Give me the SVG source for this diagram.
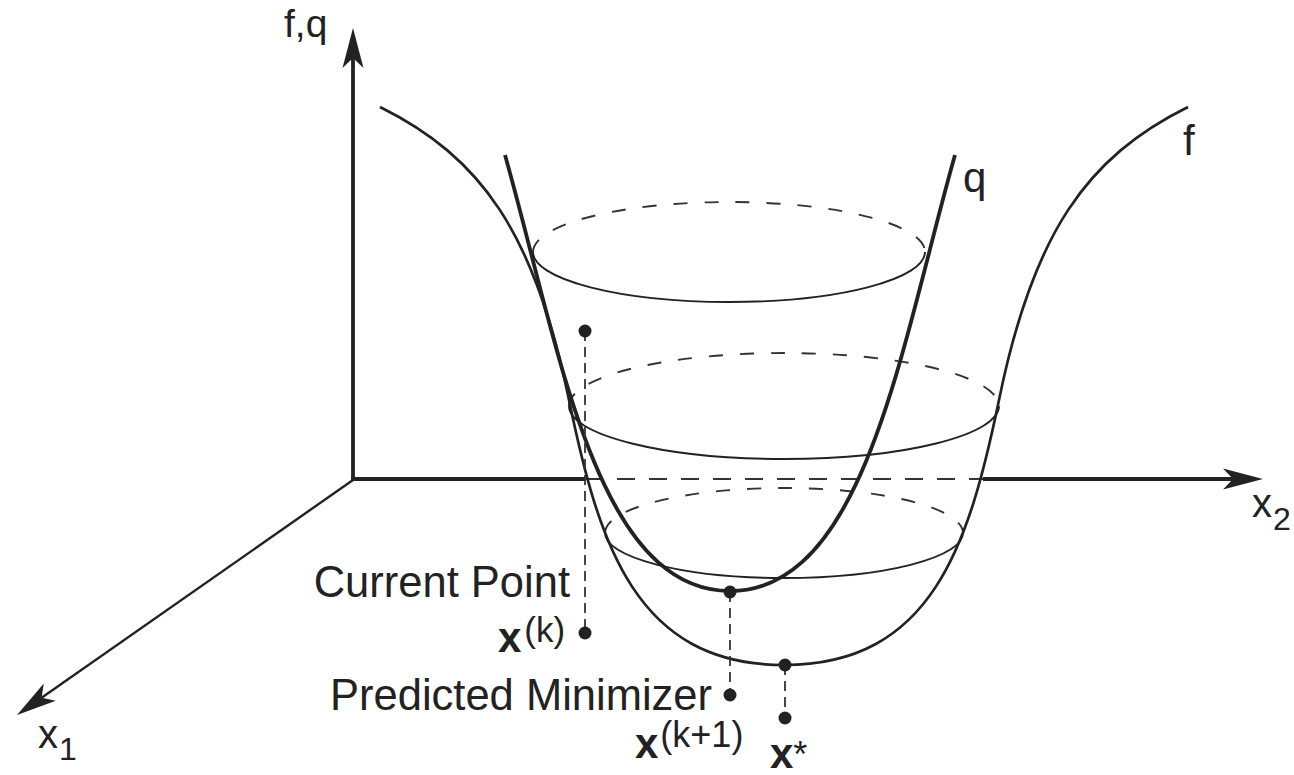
<svg xmlns="http://www.w3.org/2000/svg" width="1294" height="775" viewBox="0 0 1294 775">
<style>
  .axis{fill:none;stroke:#222;stroke-width:3.8}
  .axis-thin{fill:none;stroke:#222;stroke-width:2.4}
  .axis-dash{fill:none;stroke:#333;stroke-width:2;stroke-dasharray:18 14}
  .f{fill:none;stroke:#222;stroke-width:2.7}
  .q{fill:none;stroke:#222;stroke-width:3.8}
  .front{fill:none;stroke:#222;stroke-width:1.9}
  .back{fill:none;stroke:#333;stroke-width:1.9;stroke-dasharray:14 17}
  .guide{fill:none;stroke:#333;stroke-width:1.8;stroke-dasharray:10 6}
  .dot{fill:#222}
  text{font-family:"Liberation Sans",Arial,sans-serif;fill:#222}
</style>
<defs>
  <marker id="arrow" markerUnits="userSpaceOnUse" orient="auto" refX="0" refY="0" markerWidth="50" markerHeight="30" overflow="visible">
    <path d="M30,0 L-10,-10.5 L0,0 L-10,10.5 Z" fill="#222"/>
  </marker>
</defs>
<rect width="1294" height="775" fill="#fff"/>

<g id="axes">
  <line class="axis" x1="353" y1="481" x2="353" y2="58" marker-end="url(#arrow)"/>
  <line class="axis" x1="351" y1="479" x2="585" y2="479"/>
  <line class="axis-dash" x1="585" y1="479" x2="983" y2="479"/>
  <line class="axis" x1="983" y1="479" x2="1233" y2="479" marker-end="url(#arrow)"/>
  <line class="axis-thin" x1="353" y1="480" x2="41.6" y2="697.8" marker-end="url(#arrow)"/>
</g>

<g id="contours-back">
  <path class="back" d="M533,252 A196,50 0 0 1 925,252"/>
  <path class="back" d="M569,406 A215,53 0 0 1 999,406"/>
  <path class="back" d="M605,533 A179,45 0 0 1 963,533"/>
</g>

<g id="curve-f">
  <path class="f" d="M380,107 C481,157 535,233 569,400 C599,545 636,665 784,665 C932,665 969,545 999,400 C1033,233 1087,157 1188,107"/>
</g>

<g id="curve-q">
  <path class="q" d="M505,155 C559,345 595,591 730,591 C865,591 901,345 955,155"/>
</g>

<g id="contours-front">
  <path class="front" d="M533,252 A196,50 0 0 0 925,252"/>
  <path class="front" d="M569,406 A215,53 0 0 0 999,406"/>
  <path class="front" d="M605,533 A179,45 0 0 0 963,533"/>
</g>

<g id="guides">
  <line class="guide" x1="585" y1="331" x2="585" y2="633"/>
  <line class="guide" x1="730" y1="592" x2="730" y2="695"/>
  <line class="guide" x1="785" y1="665" x2="785" y2="718"/>
</g>

<g id="points">
  <circle class="dot" cx="585" cy="331" r="6.5"/>
  <circle class="dot" cx="585" cy="633" r="6.5"/>
  <circle class="dot" cx="730" cy="592" r="6.5"/>
  <circle class="dot" cx="730" cy="695" r="6.5"/>
  <circle class="dot" cx="785" cy="665" r="6.5"/>
  <circle class="dot" cx="785" cy="718" r="6.5"/>
</g>

<g id="labels">
  <text x="284" y="37" font-size="39">f,q</text>
  <text x="963" y="192" font-size="42">q</text>
  <text x="1183" y="155" font-size="42">f</text>
  <text x="1252" y="517" font-size="40">x<tspan font-size="32" dx="1" dy="13">2</tspan></text>
  <text x="38" y="748" font-size="40">x<tspan font-size="32" dx="1" dy="12">1</tspan></text>
  <text x="570" y="597" font-size="43.5" text-anchor="end">Current Point</text>
  <text x="712" y="710" font-size="43.5" text-anchor="end">Predicted Minimizer</text>
  <text x="498" y="652" font-size="42"><tspan font-weight="bold">x</tspan><tspan font-size="35" dx="3" dy="-10">(k)</tspan></text>
  <text x="635" y="758" font-size="42"><tspan font-weight="bold">x</tspan><tspan font-size="36" dx="2" dy="-11">(k+1)</tspan></text>
  <text x="770" y="768" font-size="42"><tspan font-weight="bold">x</tspan><tspan font-size="36" dx="0" dy="-1">*</tspan></text>
</g>
</svg>
